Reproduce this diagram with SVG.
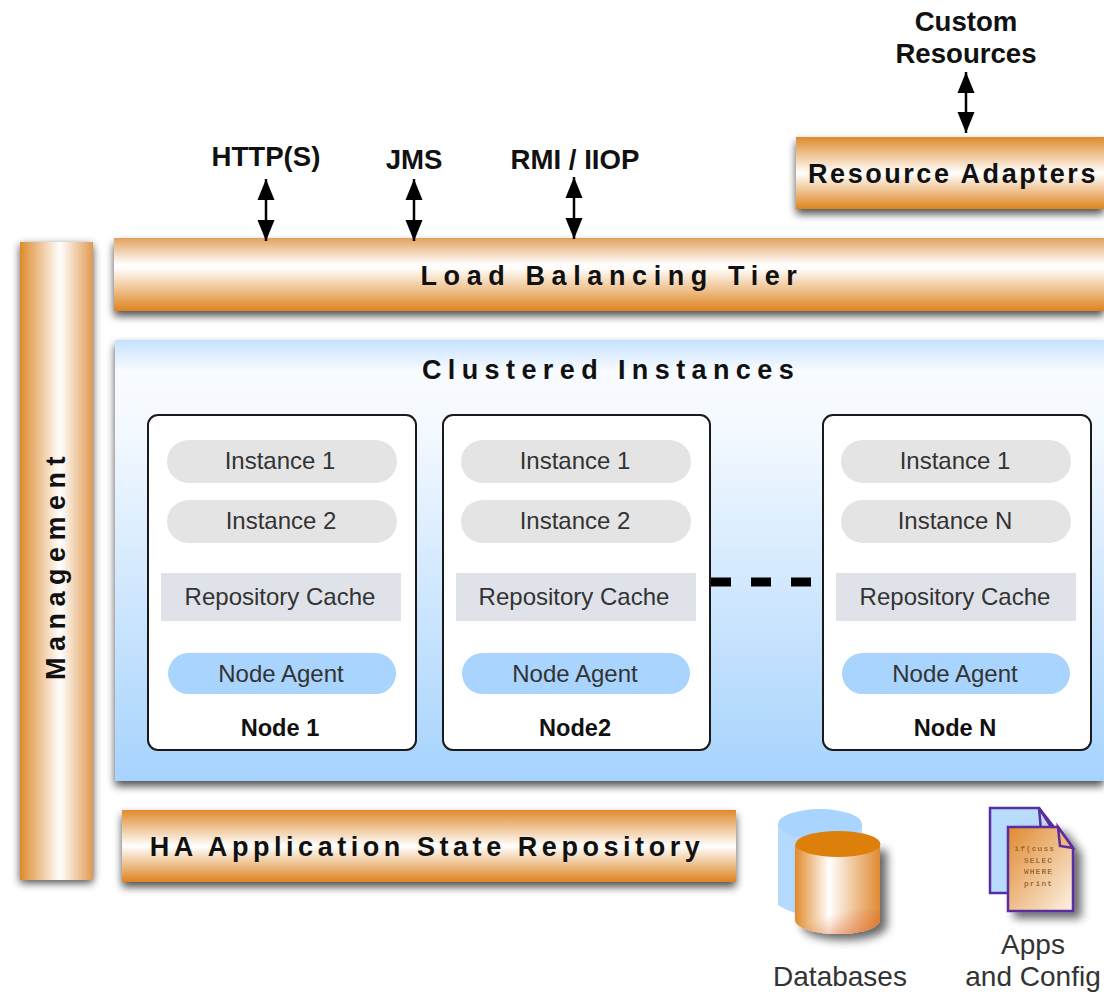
<svg xmlns="http://www.w3.org/2000/svg" width="1104" height="992" viewBox="0 0 1104 992">
<style>
text{font-family:"Liberation Sans",Arial,sans-serif;fill:#1a1a1a;text-anchor:middle}
.t{font-size:27px;font-weight:bold;fill:#111}
.b{font-size:27.600px;font-weight:bold;fill:#111}
.i{font-size:24px;fill:#333}
.n{font-size:23.600px;font-weight:bold;fill:#111}
.l{font-size:28px;fill:#333}
.p{fill:#e4e4e4}
.r{fill:#dfe2e8}
.a{fill:#a8d4fd}
.box{fill:#fff;stroke:#1a1a1a;stroke-width:2}
.c{font-family:"Liberation Mono",monospace;font-size:8px;font-weight:bold;fill:#8a5a2a;opacity:.8;letter-spacing:1px;text-anchor:end}
.arrow{stroke:#000;stroke-width:2.500;fill:none;marker-start:url(#ah);marker-end:url(#ah)}
</style>
<defs>
<linearGradient id="h" x1="0" y1="0" x2="0" y2="1"><stop offset="0" stop-color="#e2a05c"/><stop offset=".36" stop-color="#fff"/><stop offset=".42" stop-color="#fffdfa"/><stop offset="1" stop-color="#de841f"/></linearGradient>
<linearGradient id="h2" x1="0" y1="0" x2="0" y2="1"><stop offset="0" stop-color="#df8a2c"/><stop offset=".5" stop-color="#fff"/><stop offset="1" stop-color="#de841f"/></linearGradient>
<linearGradient id="v" x1="0" y1="0" x2="1" y2="0"><stop offset="0" stop-color="#de8a2c"/><stop offset=".55" stop-color="#fff"/><stop offset="1" stop-color="#e09a50"/></linearGradient>
<linearGradient id="cl" x1="0" y1="0" x2="0" y2="1"><stop offset="0" stop-color="#c5e2fe"/><stop offset=".07" stop-color="#f8fbff"/><stop offset=".2" stop-color="#f4f9ff"/><stop offset="1" stop-color="#a6d3fd"/></linearGradient>
<linearGradient id="cy" x1="0" y1="0" x2="1" y2="0"><stop offset="0" stop-color="#e08a2a"/><stop offset=".4" stop-color="#fff"/><stop offset="1" stop-color="#df8a30"/></linearGradient>
<linearGradient id="tint" x1="0" y1="0" x2="1" y2="1"><stop offset=".35" stop-color="#e0703a" stop-opacity="0"/><stop offset="1" stop-color="#e0703a" stop-opacity=".7"/></linearGradient>
<linearGradient id="doc" x1="0" y1="0" x2="1" y2="1"><stop offset="0" stop-color="#e08a30"/><stop offset="1" stop-color="#fdf2e6"/></linearGradient>
<filter id="s" x="-10%" y="-20%" width="120%" height="150%"><feGaussianBlur in="SourceAlpha" stdDeviation="4"/><feOffset dx="0" dy="5"/><feComponentTransfer><feFuncA type="linear" slope=".7"/></feComponentTransfer><feMerge><feMergeNode/><feMergeNode in="SourceGraphic"/></feMerge></filter>
<filter id="sv" x="-30%" y="-5%" width="160%" height="110%"><feGaussianBlur in="SourceAlpha" stdDeviation="4"/><feOffset dx="0" dy="3"/><feComponentTransfer><feFuncA type="linear" slope=".7"/></feComponentTransfer><feMerge><feMergeNode/><feMergeNode in="SourceGraphic"/></feMerge></filter>
<filter id="si" x="-30%" y="-20%" width="170%" height="150%"><feGaussianBlur in="SourceAlpha" stdDeviation="5"/><feOffset dx="7" dy="6"/><feComponentTransfer><feFuncA type="linear" slope=".6"/></feComponentTransfer><feMerge><feMergeNode/><feMergeNode in="SourceGraphic"/></feMerge></filter>
<filter id="bl"><feGaussianBlur stdDeviation=".5"/></filter>
<marker id="ah" markerUnits="userSpaceOnUse" markerWidth="22" markerHeight="18" refX="21" refY="9" orient="auto-start-reverse"><path d="M0 .5L21 9L0 17.500Z" fill="#000"/></marker>
</defs>

<g id="custom-resources"><text class="b" x="966" y="31">Custom</text><text class="b" x="966" y="63">Resources</text></g>
<g id="resource-adapters"><rect x="796" y="137" width="308" height="72" fill="url(#h2)" filter="url(#s)"/><text class="t" x="953" y="183" style="letter-spacing:2.550px">Resource Adapters</text></g>
<g id="http"><text class="b" x="266" y="166">HTTP(S)</text></g>
<g id="jms"><text class="b" x="414" y="169">JMS</text></g>
<g id="rmi"><text class="b" x="575" y="169">RMI / IIOP</text></g>
<g id="load-balancing"><rect x="114" y="238" width="990" height="73" fill="url(#h)" filter="url(#s)"/><text class="t" x="612" y="285" style="letter-spacing:6.600px">Load Balancing Tier</text></g>
<g id="management"><rect x="20" y="242" width="73" height="638" fill="url(#v)" filter="url(#sv)"/><text class="t" transform="translate(65 565) rotate(-90)" style="letter-spacing:6.500px">Management</text></g>
<g id="clustered"><rect x="115" y="340" width="989" height="441" fill="url(#cl)" filter="url(#s)"/><text class="t" x="611" y="379" style="letter-spacing:6.400px">Clustered Instances</text></g>

<g id="node-1"><rect class="box" x="148" y="415" width="268" height="335" rx="10"/><rect class="p" x="167" y="440" width="230" height="43" rx="21.500"/><text class="i" x="280" y="469">Instance 1</text><rect class="p" x="167" y="500" width="230" height="43" rx="21.500"/><text class="i" x="281" y="529">Instance 2</text><rect class="r" x="161" y="573" width="240" height="48"/><text class="i" x="280" y="605">Repository Cache</text><rect class="a" x="168" y="653" width="228" height="41" rx="20.500"/><text class="i" x="281" y="682">Node Agent</text><text class="n" x="280" y="736">Node 1</text></g>
<g id="node-2"><rect class="box" x="443" y="415" width="267" height="335" rx="10"/><rect class="p" x="461" y="440" width="230" height="43" rx="21.500"/><text class="i" x="575" y="469">Instance 1</text><rect class="p" x="461" y="500" width="230" height="43" rx="21.500"/><text class="i" x="575" y="529">Instance 2</text><rect class="r" x="456" y="573" width="240" height="48"/><text class="i" x="574" y="605">Repository Cache</text><rect class="a" x="462" y="653" width="228" height="41" rx="20.500"/><text class="i" x="575" y="682">Node Agent</text><text class="n" x="575" y="736">Node2</text></g>
<g id="node-n"><rect class="box" x="823" y="415" width="268" height="335" rx="10"/><rect class="p" x="841" y="440" width="230" height="43" rx="21.500"/><text class="i" x="955" y="469">Instance 1</text><rect class="p" x="841" y="500" width="230" height="43" rx="21.500"/><text class="i" x="955" y="529">Instance N</text><rect class="r" x="836" y="573" width="240" height="48"/><text class="i" x="955" y="605">Repository Cache</text><rect class="a" x="842" y="653" width="228" height="41" rx="20.500"/><text class="i" x="955" y="682">Node Agent</text><text class="n" x="955" y="736">Node N</text></g>

<g id="ha-repository"><rect x="122" y="810" width="614" height="72" fill="url(#h2)" filter="url(#s)"/><text class="t" x="427" y="856" style="letter-spacing:4.550px">HA Application State Repository</text></g>

<g id="databases">
<path d="M778 824V905C784 909 790 912 800 914H862V824Z" fill="#b4dafd"/><ellipse cx="820" cy="824" rx="42" ry="15" fill="#a9d4fd"/>
<g filter="url(#si)"><path d="M795 844V920C795 928 815 934 838 934C861 934 880 928 880 920V844Z" fill="url(#cy)"/></g>
<path d="M795 912C815 906 861 906 880 912V920C880 928 861 934 838 934C815 934 795 928 795 920Z" fill="url(#tint)"/>
<ellipse cx="838" cy="844" rx="42.500" ry="13" fill="#dd7f0b"/>
<text class="l" x="840" y="986">Databases</text>
</g>
<g id="apps-config">
<path d="M990 808H1039L1053 826V893H990Z" fill="#b9dcfd" stroke="#5a2ea0" stroke-width="2.500"/><path d="M1039 808L1053 830H1041Z" fill="#c9d9f5" stroke="#5a2ea0" stroke-width="2.500"/>
<g filter="url(#si)"><path d="M1008 827H1058L1073 848V911H1008Z" fill="url(#doc)" stroke="#5a2ea0" stroke-width="2.500"/></g>
<path d="M1058 827L1073 848L1060 846Z" fill="#efb878" stroke="#5a2ea0" stroke-width="2.500"/>
<g filter="url(#bl)"><text class="c" x="1055" y="851">if(cuss</text><text class="c" x="1053" y="863">SELEC</text><text class="c" x="1053" y="874">WHERE</text><text class="c" x="1053" y="886">print</text></g>
<text class="l" x="1033" y="954">Apps</text><text class="l" x="1033" y="986">and Config</text>
</g>

<g id="connectors">
<path class="arrow" d="M266 179V241"/>
<path class="arrow" d="M414 179V241"/>
<path class="arrow" d="M574 177V239"/>
<path class="arrow" d="M966 72V133"/>
<path d="M711 582H811" stroke="#000" stroke-width="9" stroke-dasharray="20 20" fill="none"/>
</g>
</svg>
